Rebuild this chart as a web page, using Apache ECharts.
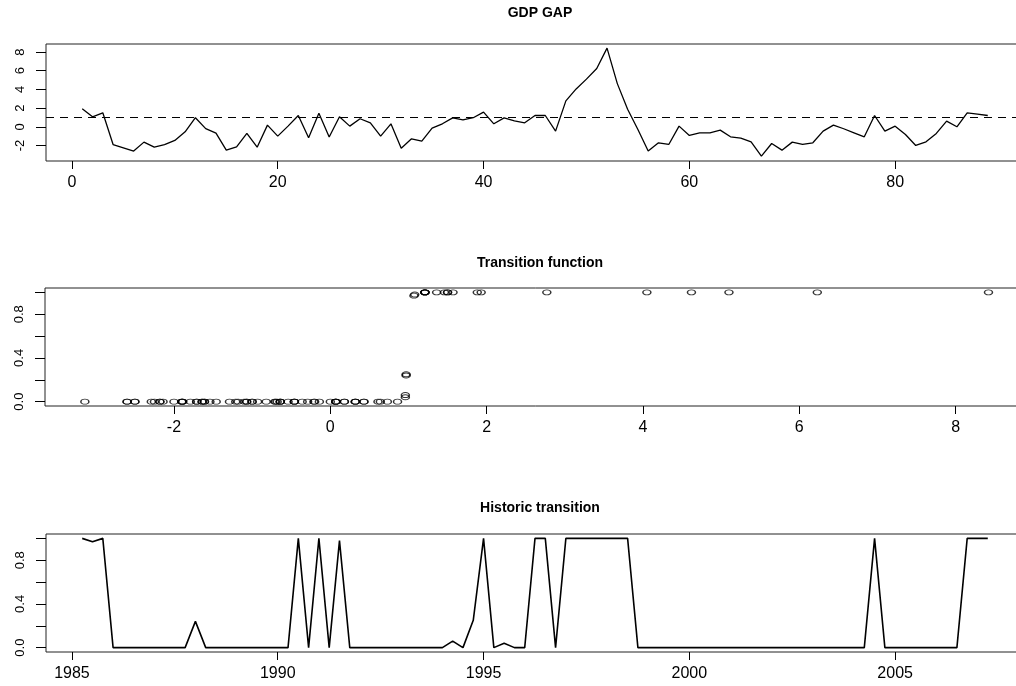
<!DOCTYPE html>
<html>
<head>
<meta charset="utf-8">
<title>GDP gap transition</title>
<script src="https://cdn.jsdelivr.net/npm/echarts@6/dist/echarts.min.js"></script>
<style>
  html, body { margin: 0; padding: 0; background: #fff; overflow: hidden; }
  /* plot boxes run slightly past the right edge, as in the original */
  #chart { width: 1040px; height: 686px; }
</style>
</head>
<body>
<div id="chart"></div>
<script>
// quarterly observations, 1985Q2 .. 2007Q2
const obsIndex = Array.from({ length: 89 }, (_, i) => i + 1)
const obsTime = obsIndex.map(i => 1985 + i / 4)

// GDP gap, one value per quarter
const gdpGap = [
  1.93, 1.07, 1.5, -1.9, -2.25, -2.6, -1.64, -2.18, -1.9, -1.46,
  -0.54, 0.97, -0.2, -0.68, -2.5, -2.14, -0.7, -2.18, 0.18, -1.0,
  0.07, 1.21, -1.18, 1.46, -1.1, 1.08, 0.07, 0.86, 0.43, -1.0,
  0.32, -2.29, -1.29, -1.54, -0.14, 0.32, 0.96, 0.73, 0.97, 1.57,
  0.32, 0.96, 0.64, 0.43, 1.21, 1.21, -0.46, 2.77, 4.05, 5.1,
  6.23, 8.42, 4.62, 1.88, -0.29, -2.6, -1.71, -1.89, 0.07, -0.93,
  -0.64, -0.64, -0.36, -1.07, -1.21, -1.61, -3.14, -1.79, -2.5, -1.64,
  -1.89, -1.71, -0.46, 0.18, -0.21, -0.64, -1.07, 1.21, -0.46, 0.07,
  -0.82, -2.0, -1.61, -0.71, 0.61, 0.0, 1.5, 1.36, 1.21
]

// transition function value per quarter
const transition = [
  1.0, 0.97, 1.0, 0, 0, 0, 0, 0, 0, 0,
  0, 0.24, 0, 0, 0, 0, 0, 0, 0, 0,
  0, 1.0, 0, 1.0, 0, 0.98, 0, 0, 0, 0,
  0, 0, 0, 0, 0, 0, 0.06, 0, 0.25, 1.0,
  0, 0.04, 0, 0, 1.0, 1.0, 0, 1.0, 1.0, 1.0,
  1.0, 1.0, 1.0, 1.0, 0, 0, 0, 0, 0, 0,
  0, 0, 0, 0, 0, 0, 0, 0, 0, 0,
  0, 0, 0, 0, 0, 0, 0, 1.0, 0, 0,
  0, 0, 0, 0, 0, 0, 1.0, 1.0, 1.0
]

const threshold = 1.0

// tick labels
const gapTicksY = [-2, 0, 2, 4, 6, 8]
const gapTicksX = [0, 20, 40, 60, 80]
const probTicks = [0, 0.2, 0.4, 0.6, 0.8, 1.0]
const probLabels = [0, 0.4, 0.8]
const scatterTicksX = [-2, 0, 2, 4, 6, 8]
const yearTicks = [1985, 1990, 1995, 2000, 2005]

const chart = echarts.init(document.getElementById('chart'))

const labelFont = { fontFamily: 'Liberation Sans', color: '#000' }
const titleStyle = { fontFamily: 'Liberation Sans', fontWeight: 'bold', fontSize: 14, color: '#000' }

function xAxisFor(gridIndex, min, max, ticks) {
  return {
    type: 'value', gridIndex, min, max,
    splitLine: { show: false },
    axisLine: { show: false, onZero: false },
    axisTick: { show: true, length: 8, customValues: ticks, lineStyle: { color: '#000', width: 1 } },
    axisLabel: Object.assign({ fontSize: 16, margin: 14, customValues: ticks, formatter: v => String(v) }, labelFont)
  }
}

function yAxisFor(gridIndex, min, max, ticks, labels, fmt) {
  return {
    type: 'value', gridIndex, min, max,
    splitLine: { show: false },
    axisLine: { show: false, onZero: false },
    axisTick: { show: true, length: 10, customValues: ticks, lineStyle: { color: '#000', width: 1 } },
    axisLabel: Object.assign({ fontSize: 13, margin: 19, rotate: 90, customValues: labels, formatter: fmt }, labelFont)
  }
}

const gridBox = { show: true, borderColor: '#222', borderWidth: 1, backgroundColor: 'transparent' }

chart.setOption({
  animation: false,
  backgroundColor: '#fff',
  title: [
    { text: 'GDP GAP', left: 535, top: 1, textAlign: 'center', textStyle: titleStyle },
    { text: 'Transition function', left: 535, top: 251, textAlign: 'center', textStyle: titleStyle },
    { text: 'Historic transition', left: 535, top: 496, textAlign: 'center', textStyle: titleStyle }
  ],
  grid: [
    Object.assign({ left: 46, top: 44, width: 978, height: 117 }, gridBox),
    Object.assign({ left: 45, top: 288, width: 981, height: 118 }, gridBox),
    Object.assign({ left: 46, top: 534, width: 978, height: 118 }, gridBox)
  ],
  xAxis: [
    xAxisFor(0, -2.52, 92.52, gapTicksX),
    xAxisFor(1, -3.65, 8.9, scatterTicksX),
    xAxisFor(2, 1984.37, 2008.13, yearTicks)
  ],
  yAxis: [
    yAxisFor(0, -3.66, 8.86, gapTicksY, gapTicksY, v => String(v)),
    yAxisFor(1, -0.04, 1.04, probTicks, probLabels, v => v.toFixed(1)),
    yAxisFor(2, -0.04, 1.04, probTicks, probLabels, v => v.toFixed(1))
  ],
  series: [
    {
      name: 'GDP GAP', type: 'line', xAxisIndex: 0, yAxisIndex: 0,
      data: obsIndex.map((t, i) => [t, gdpGap[i]]),
      showSymbol: false,
      lineStyle: { color: '#000', width: 1.3 },
      markLine: {
        silent: true, symbol: 'none',
        label: { show: false },
        lineStyle: { color: '#000', width: 1.2, type: [8, 6] },
        data: [{ yAxis: threshold }]
      }
    },
    {
      name: 'Transition function', type: 'scatter', xAxisIndex: 1, yAxisIndex: 1,
      data: gdpGap.map((g, i) => [g, transition[i]]),
      symbol: 'circle', symbolSize: [8, 5],
      itemStyle: { color: 'rgba(0,0,0,0)', borderColor: '#000', borderWidth: 1.2 }
    },
    {
      name: 'Historic transition', type: 'line', xAxisIndex: 2, yAxisIndex: 2,
      data: obsTime.map((t, i) => [t, transition[i]]),
      showSymbol: false,
      lineStyle: { color: '#000', width: 1.6 }
    }
  ]
})
</script>
</body>
</html>
